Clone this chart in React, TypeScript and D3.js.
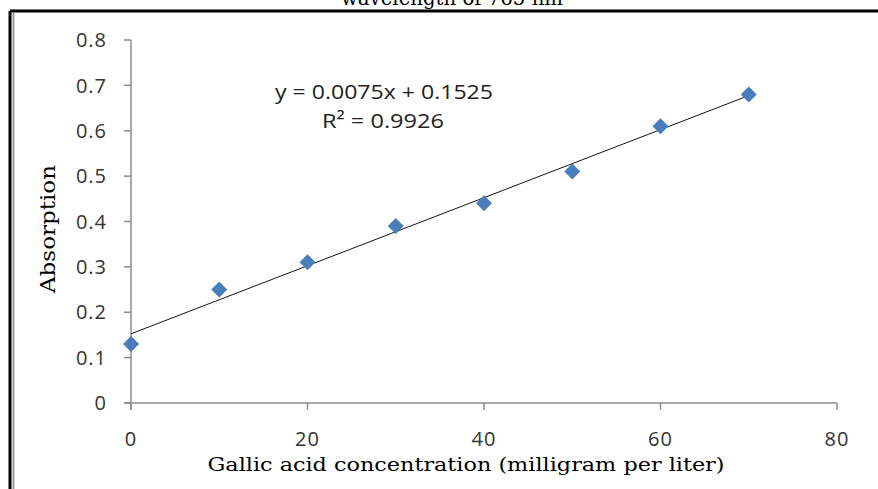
import React from "react";
import * as d3 from "d3";

const concentrations = [0, 10, 20, 30, 40, 50, 60, 70];
const absorption = [0.13, 0.25, 0.31, 0.39, 0.44, 0.51, 0.61, 0.68];
const xTicks = [0, 20, 40, 60, 80];
const yTicks = [0, 0.1, 0.2, 0.3, 0.4, 0.5, 0.6, 0.7, 0.8];
const slope = 0.0075;
const intercept = 0.1525;
const rSquared = 0.9926;

const W = 878;
const H = 489;
const sansFont = "'Open Sans', 'Noto Sans', sans-serif";
const serifFont = "'DejaVu Serif', 'Liberation Serif', serif";

export default function App() {
  const x = d3.scaleLinear().domain([0, 80]).range([131, 837]);
  const y = d3.scaleLinear().domain([0, 0.8]).range([403, 40]);
  const axisColor = "#8c8c8c";

  const fit = d3
    .line<number>()
    .x((d) => x(d))
    .y((d) => y(slope * d + intercept));

  const diamond = d3.symbol().type(d3.symbolSquare).size(128)();

  return (
    <svg
      width={W}
      height={H}
      style={{ position: "absolute", left: 0, top: 0, background: "#fff" }}
    >
      <rect x={0} y={0} width={W} height={H} fill="#fff" />
      {/* title, cut off at the top edge */}
      <text
        x={452}
        y={5}
        textAnchor="middle"
        fontFamily={serifFont}
        fontSize={20}
        textLength={222}
        lengthAdjust="spacingAndGlyphs"
        fill="#000"
      >
        wavelength of 765 nm
      </text>
      {/* frame */}
      <line x1={10} y1={11} x2={W} y2={11} stroke="#000" strokeWidth={3} />
      <line x1={10} y1={11} x2={10} y2={H} stroke="#000" strokeWidth={3} />
      <line x1={13.5} y1={13} x2={13.5} y2={H} stroke="#9a9a9a" strokeWidth={2} />

      {/* y axis */}
      <line x1={x(0)} y1={y(0.8)} x2={x(0)} y2={y(0) + 7} stroke={axisColor} strokeWidth={1.5} />
      {yTicks.map((t) => (
        <g key={"y" + t}>
          <line x1={x(0) - 7} y1={y(t)} x2={x(0)} y2={y(t)} stroke={axisColor} strokeWidth={1.5} />
          <text
            x={107}
            y={y(t)}
            dy="0.36em"
            textAnchor="end"
            fontFamily={sansFont}
            fontSize={20}
            letterSpacing={1}
            fill="#333"
          >
            {t === 0 ? "0" : d3.format(".1f")(t)}
          </text>
        </g>
      ))}

      {/* x axis */}
      <line x1={x(0) - 7} y1={y(0)} x2={x(80)} y2={y(0)} stroke={axisColor} strokeWidth={1.5} />
      {xTicks.map((t) => (
        <g key={"x" + t}>
          <line x1={x(t)} y1={y(0)} x2={x(t)} y2={y(0) + 7} stroke={axisColor} strokeWidth={1.5} />
          <text
            x={x(t)}
            y={446}
            textAnchor="middle"
            fontFamily={sansFont}
            fontSize={20}
            letterSpacing={1}
            fill="#333"
          >
            {t}
          </text>
        </g>
      ))}

      {/* linear trend line */}
      <path d={fit([0, 70]) || ""} fill="none" stroke="#111" strokeWidth={1} />

      {/* measured points */}
      {concentrations.map((c, i) => (
        <path
          key={"p" + c}
          d={diamond || ""}
          transform={`translate(${x(c)},${y(absorption[i])}) rotate(45)`}
          fill="#4a7ebb"
        />
      ))}

      {/* regression equation */}
      <text
        x={384}
        y={99}
        textAnchor="middle"
        fontFamily={sansFont}
        fontSize={20}
        textLength={218}
        lengthAdjust="spacingAndGlyphs"
        fill="#222"
      >
        {`y = ${slope}x + ${intercept}`}
      </text>
      <text
        x={383}
        y={128}
        textAnchor="middle"
        fontFamily={sansFont}
        fontSize={20}
        textLength={122}
        lengthAdjust="spacingAndGlyphs"
        fill="#222"
      >
        {`R² = ${rSquared}`}
      </text>

      {/* axis titles */}
      <text
        x={466}
        y={471}
        textAnchor="middle"
        fontFamily={serifFont}
        fontSize={18}
        textLength={517}
        lengthAdjust="spacingAndGlyphs"
        fill="#000"
      >
        Gallic acid concentration (milligram per liter)
      </text>
      <text
        transform="translate(55,229) rotate(-90)"
        textAnchor="middle"
        fontFamily={serifFont}
        fontSize={20}
        textLength={128}
        lengthAdjust="spacingAndGlyphs"
        fill="#000"
      >
        Absorption
      </text>
    </svg>
  );
}
